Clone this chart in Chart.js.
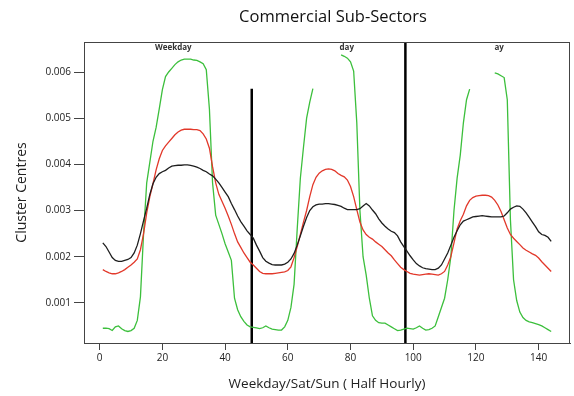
<!DOCTYPE html>
<html>
<head>
<meta charset="utf-8">
<script src="https://cdn.jsdelivr.net/npm/chart.js@4.4.1/dist/chart.umd.min.js"></script>
<style>
  html, body { margin: 0; padding: 0; background: #fff; }
  #wrap { width: 574px; height: 396px; }
</style>
</head>
<body>
<div id="wrap"><canvas id="grafico"></canvas></div>
<script>
// half hour index, 3 days of 48 points (weekday / sat / sun)
var halfHours = []
for (var i = 1; i <= 144; i++) halfHours.push(i)

// cluster centres (in units of 0.001)
var negro = [2.30,2.22,2.10,1.98,1.92,1.90,1.90,1.92,1.94,1.98,2.08,2.25,2.50,2.78,3.05,3.35,3.58,3.72,3.80,3.84,
  3.87,3.92,3.96,3.97,3.98,3.98,3.99,3.99,3.98,3.96,3.94,3.91,3.87,3.84,3.79,3.75,3.68,3.60,3.50,3.40,
  3.30,3.15,3.02,2.88,2.76,2.66,2.56,2.48,2.40,2.25,2.12,1.98,1.90,1.86,1.83,1.82,1.82,1.82,1.84,1.88,
  1.95,2.07,2.25,2.45,2.66,2.85,3.00,3.08,3.12,3.14,3.14,3.15,3.15,3.14,3.13,3.11,3.09,3.05,3.02,3.02,
  3.02,3.02,3.04,3.10,3.15,3.10,3.01,2.93,2.82,2.73,2.66,2.60,2.55,2.52,2.45,2.32,2.22,2.12,2.02,1.93,
  1.85,1.80,1.76,1.74,1.73,1.72,1.72,1.75,1.82,1.95,2.08,2.25,2.42,2.56,2.69,2.77,2.80,2.83,2.86,2.87,
  2.88,2.89,2.88,2.87,2.86,2.86,2.86,2.86,2.88,2.95,3.03,3.07,3.10,3.09,3.03,2.95,2.85,2.75,2.65,2.54,
  2.48,2.46,2.42,2.33]

var rojo = [1.72,1.68,1.65,1.63,1.63,1.65,1.68,1.72,1.77,1.82,1.88,1.95,2.15,2.50,2.95,3.30,3.58,3.88,4.12,4.30,
  4.40,4.48,4.56,4.64,4.70,4.74,4.76,4.76,4.76,4.75,4.75,4.73,4.66,4.55,4.35,3.95,3.60,3.35,3.20,3.05,
  2.88,2.70,2.50,2.32,2.20,2.08,1.98,1.88,1.82,1.75,1.68,1.64,1.63,1.63,1.63,1.64,1.65,1.66,1.67,1.70,
  1.78,1.98,2.22,2.48,2.75,3.00,3.30,3.56,3.72,3.81,3.86,3.89,3.90,3.89,3.86,3.80,3.76,3.73,3.66,3.52,
  3.30,3.02,2.75,2.58,2.48,2.42,2.38,2.32,2.27,2.22,2.15,2.08,2.02,1.93,1.85,1.77,1.72,1.68,1.64,1.62,
  1.61,1.60,1.61,1.62,1.63,1.62,1.61,1.60,1.63,1.68,1.82,2.00,2.30,2.60,2.78,2.92,3.10,3.22,3.28,3.31,
  3.32,3.33,3.33,3.32,3.29,3.22,3.12,2.98,2.80,2.62,2.48,2.40,2.33,2.26,2.19,2.14,2.10,2.06,2.03,1.97,
  1.89,1.82,1.75,1.68]

// green peaks are partly hidden in the picture (null = not visible)
var verde = [0.45,0.45,0.44,0.40,0.48,0.50,0.44,0.40,0.38,0.40,0.45,0.62,1.13,2.50,3.60,4.05,4.50,4.80,5.20,5.62,
  5.90,6.00,6.08,6.16,6.22,6.26,6.28,6.28,6.28,6.26,6.25,6.22,6.18,6.05,5.20,3.60,2.90,2.70,2.50,2.28,
  2.10,1.92,1.10,0.85,0.70,0.60,0.52,0.48,0.47,0.46,0.44,0.46,0.50,0.46,0.43,0.42,0.41,0.41,0.48,0.62,
  0.90,1.40,2.60,3.70,4.37,5.00,5.35,5.64,null,null,null,null,null,null,null,null,6.37,6.34,6.30,6.22,
  6.02,4.90,3.00,2.00,1.60,1.10,0.72,0.62,0.57,0.56,0.56,0.52,0.48,0.44,0.40,0.41,0.43,0.45,0.44,0.43,
  0.46,0.50,0.45,0.41,0.42,0.45,0.50,0.70,0.90,1.10,1.50,2.00,3.00,3.70,4.20,4.90,5.40,5.63,null,null,
  null,null,null,null,null,5.98,5.96,5.92,5.88,5.40,2.80,1.50,1.05,0.80,0.68,0.62,0.59,0.57,0.55,0.53,
  0.50,0.46,0.42,0.38]

var ticksX = [0, 20, 40, 60, 80, 100, 120, 140]
var ticksY = [1, 2, 3, 4, 5, 6]
var etiquetasDia = ['Weekday', 'day', 'ay']
var posDia = [23.5, 78.8, 127.4]
var separadores = [48.5, 97.5]
var topeSeparador = [5.64, 6.7]

const fuente = "'Open Sans', 'Liberation Sans', sans-serif"

const serie = (nombre, datos, color) => ({
    label: nombre,
    data: datos.map((v, i) => ({ x: halfHours[i], y: v })),
    borderColor: color,
    borderWidth: 1.3,
    pointRadius: 0,
    tension: 0,
    spanGaps: false,
    fill: false
})

// titulo, caja y etiquetas de los dias
const extras = {
    id: 'extras',
    afterDraw(chart) {
        const c = chart.ctx
        const a = chart.chartArea
        c.save()
        c.strokeStyle = '#444'
        c.lineWidth = 1
        c.strokeRect(a.left + 0.5, a.top + 0.5, a.right - a.left - 1, a.bottom - a.top)
        c.fillStyle = '#111'
        c.textAlign = 'center'
        c.textBaseline = 'middle'
        c.font = '16.5px ' + fuente
        c.fillText('Commercial Sub-Sectors', (a.left + a.right) / 2 + 6, 17)
        c.font = 'bold 8px ' + fuente
        c.fillStyle = '#333'
        etiquetasDia.forEach((t, i) => {
            c.fillText(t, chart.scales.x.getPixelForValue(posDia[i]), a.top + 6)
        })
        c.restore()
    }
}

const datasets = [
    serie('Black', negro, '#1e1e1e'),
    serie('Red', rojo, '#e2382a'),
    serie('Green', verde, '#3cbf3c')
]
separadores.forEach((s, i) => {
    datasets.push({
        label: 'sep' + i,
        data: [{ x: s, y: 0 }, { x: s, y: topeSeparador[i] }],
        borderColor: '#000',
        borderWidth: 2.5,
        pointRadius: 0
    })
})

const ctx = document.getElementById('grafico').getContext('2d')
const miGrafico = new Chart(ctx, {
    type: 'line',
    data: { datasets: datasets },
    options: {
        responsive: true,
        maintainAspectRatio: false,
        animation: false,
        layout: { padding: { top: 42, right: 4, left: 0, bottom: 0 } },
        plugins: {
            legend: { display: false },
            tooltip: { enabled: false },
            title: { display: false }
        },
        scales: {
            x: {
                type: 'linear',
                min: -5,
                max: 150,
                afterFit: s => { s.height = 53 },
                afterBuildTicks: s => { s.ticks = ticksX.map(v => ({ value: v })) },
                grid: { drawOnChartArea: false, drawTicks: true, tickLength: 7, color: '#444' },
                border: { display: true, color: '#444' },
                ticks: { color: '#222', font: { family: fuente, size: 10 }, padding: 2, maxRotation: 0 },
                title: {
                    display: true,
                    text: 'Weekday/Sat/Sun ( Half Hourly)',
                    color: '#222',
                    font: { family: fuente, size: 13.5 },
                    padding: { top: 0, bottom: 4 }
                }
            },
            y: {
                type: 'linear',
                min: 0.13,
                max: 6.65,
                afterFit: s => { s.width = 84 },
                afterBuildTicks: s => { s.ticks = ticksY.map(v => ({ value: v })) },
                grid: { drawOnChartArea: false, drawTicks: true, tickLength: 10, color: '#444' },
                border: { display: true, color: '#444' },
                ticks: {
                    color: '#222',
                    font: { family: fuente, size: 10 },
                    padding: 3,
                    callback: v => (v / 1000).toFixed(3)
                },
                title: {
                    display: true,
                    text: 'Cluster Centres',
                    color: '#222',
                    font: { family: fuente, size: 14 },
                    padding: { top: 14, bottom: 0 }
                }
            }
        }
    },
    plugins: [extras]
})
</script>
</body>
</html>
